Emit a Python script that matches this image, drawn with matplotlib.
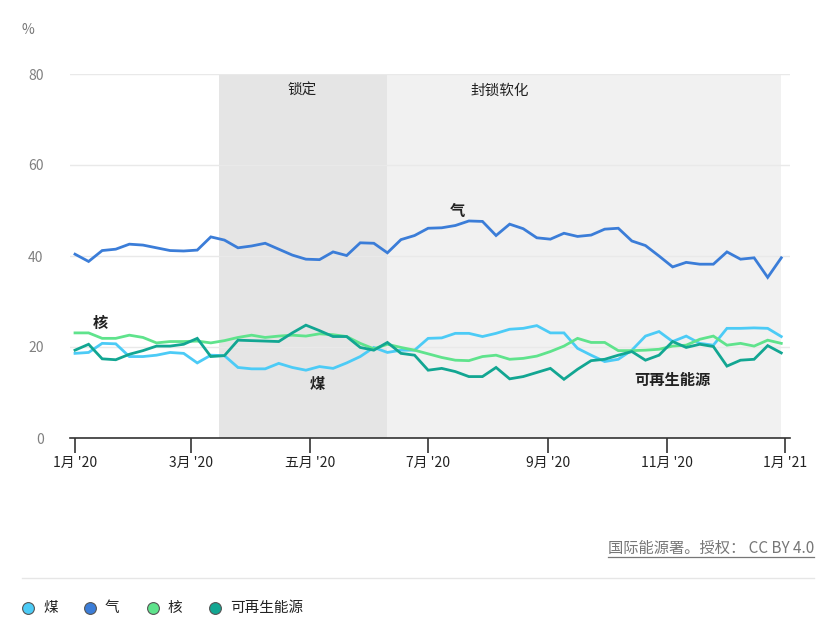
import pandas as pd
import matplotlib
matplotlib.use("Agg")
import matplotlib.pyplot as plt
from matplotlib.lines import Line2D

plt.rcParams['font.family'] = ['Noto Sans CJK SC', 'DejaVu Sans']

# Weekly share of electricity generation (%), 2020
weeks = pd.date_range("2020-01-01", periods=53, freq="7D")

coal = [18.6, 18.8, 20.8, 20.7, 17.9, 17.9, 18.2, 18.8, 18.6, 16.5,
        18.2, 18.1, 15.5, 15.2, 15.2, 16.4, 15.5, 14.9, 15.7, 15.3,
        16.5, 17.9, 19.9, 18.8, 19.3, 19.3, 21.9, 22.0, 23.0, 23.0,
        22.3, 23.0, 23.9, 24.1, 24.7, 23.1, 23.1, 19.7, 18.2, 16.8,
        17.3, 19.3, 22.4, 23.4, 21.2, 22.4, 20.8, 20.4, 24.1, 24.1,
        24.2, 24.1, 22.3]
gas = [40.4, 38.8, 41.2, 41.5, 42.6, 42.4, 41.8, 41.2, 41.1, 41.3,
       44.2, 43.5, 41.8, 42.2, 42.8, 41.5, 40.2, 39.3, 39.2, 40.9,
       40.1, 42.9, 42.8, 40.7, 43.6, 44.5, 46.1, 46.2, 46.7, 47.7,
       47.6, 44.5, 47.0, 46.0, 44.0, 43.7, 45.0, 44.3, 44.6, 45.9,
       46.1, 43.3, 42.3, 40.0, 37.6, 38.6, 38.2, 38.2, 40.9, 39.3,
       39.6, 35.3, 39.6]
nuclear = [23.1, 23.1, 21.9, 21.9, 22.6, 22.1, 20.9, 21.2, 21.2, 21.3,
           20.9, 21.4, 22.1, 22.6, 22.1, 22.4, 22.6, 22.4, 22.9, 22.7,
           22.3, 20.8, 19.6, 20.6, 19.9, 19.3, 18.5, 17.7, 17.1, 17.0,
           17.9, 18.2, 17.3, 17.5, 18.0, 19.0, 20.2, 21.9, 21.0, 21.0,
           19.2, 19.2, 19.3, 19.5, 20.2, 20.4, 21.7, 22.4, 20.4, 20.8,
           20.2, 21.5, 20.8]
renewables = [19.3, 20.6, 17.4, 17.2, 18.4, 19.2, 20.2, 20.2, 20.6, 21.9,
              17.9, 18.1, 21.5, 21.4, 21.3, 21.2, 23.1, 24.8, 23.6, 22.3,
              22.3, 19.9, 19.3, 21.0, 18.6, 18.2, 14.9, 15.3, 14.6, 13.5,
              13.5, 15.5, 13.0, 13.5, 14.4, 15.3, 12.9, 15.1, 17.0, 17.3,
              18.2, 19.0, 17.1, 18.2, 21.2, 19.9, 20.6, 20.1, 15.8, 17.1,
              17.3, 20.3, 18.7]

series_names = ["煤", "气", "核", "可再生能源"]
series_colors = ["#4ccbf6", "#3b7dd8", "#5fe38c", "#12a692"]

tick_dates = pd.to_datetime(["2020-01-01", "2020-03-01", "2020-05-01", "2020-07-01",
                             "2020-09-01", "2020-11-01", "2021-01-01"])
tick_labels = ["1月 '20", "3月 '20", "五月 '20", "7月 '20", "9月 '20", "11月 '20", "1月 '21"]

lockdown = (pd.Timestamp("2020-03-15"), pd.Timestamp("2020-06-10"))
easing = (pd.Timestamp("2020-06-10"), pd.Timestamp("2020-12-30"))

fig = plt.figure(figsize=(8.38, 6.29), dpi=100)
ax = fig.add_axes([70 / 838, 191 / 629, 720 / 838, 364 / 629])

ax.axvspan(*lockdown, color="#e5e5e5", lw=0, zorder=0)
ax.axvspan(*easing, color="#f1f1f1", lw=0, zorder=0)

for vals, c in zip([coal, gas, nuclear, renewables], series_colors):
    ax.plot(weeks, vals, color=c, lw=2.0, zorder=3, solid_joinstyle="miter")

ax.set_xlim(pd.Timestamp("2019-12-29 10:00"), pd.Timestamp("2021-01-03 12:00"))
ax.set_ylim(0, 80)
ax.set_yticks([0, 20, 40, 60, 80])
ax.grid(axis="y", color="#e9e9e9", lw=1, zorder=0.5)
ax.set_xticks(tick_dates)
ax.set_xticklabels(tick_labels, fontsize=10, color="#222")
ax.tick_params(axis="x", length=11, width=1.2, color="#333", pad=2)
ax.tick_params(axis="y", length=0, pad=19, labelsize=10, labelcolor="#808080")
for s in ["top", "right", "left"]:
    ax.spines[s].set_visible(False)
ax.spines["bottom"].set_color("#333")
ax.spines["bottom"].set_linewidth(1.2)
ax.set_facecolor("white")

# period labels
ax.text(pd.Timestamp("2020-04-27"), 76.3, "锁定", ha="center", va="center", fontsize=10.5, color="#222")
ax.text(pd.Timestamp("2020-08-07"), 76.3, "封锁软化", ha="center", va="center", fontsize=10.5, color="#222")

# series labels
ax.text(pd.Timestamp("2020-07-16"), 49.8, "气", ha="center", va="center", fontsize=11, fontweight="bold", color="#222")
ax.text(pd.Timestamp("2020-01-14"), 25.2, "核", ha="center", va="center", fontsize=11, fontweight="bold", color="#222")
ax.text(pd.Timestamp("2020-05-05"), 11.9, "煤", ha="center", va="center", fontsize=11, fontweight="bold", color="#222")
ax.text(pd.Timestamp("2020-11-04"), 12.8, "可再生能源", ha="center", va="center", fontsize=11, fontweight="bold", color="#222")

fig.text(28 / 838, 1 - 30 / 629, "%", ha="center", va="center", fontsize=10, color="#777")

# source
src = fig.text(814 / 838, 1 - 548 / 629, "国际能源署。授权： CC BY 4.0", ha="right", va="center",
               fontsize=11, color="#777")
fig.canvas.draw()
bb = src.get_window_extent().transformed(fig.transFigure.inverted())
fig.add_artist(Line2D([bb.x0, bb.x1], [1 - 557 / 629] * 2, color="#777", lw=0.9))

fig.add_artist(Line2D([22 / 838, 814 / 838], [1 - 578 / 629] * 2, color="#e6e6e6", lw=1))

# legend
legend_x = [28, 90, 153, 215]
for name, c, x in zip(series_names, series_colors, legend_x):
    fig.add_artist(Line2D([x / 838], [1 - 608 / 629], marker="o", markersize=8.5, linestyle="",
                          markerfacecolor=c, markeredgecolor="#555", markeredgewidth=0.8))
    fig.text((x + 15) / 838, 1 - 608 / 629, name, ha="left", va="center", fontsize=10.5, color="#222")

plt.savefig("out.png", dpi=100)
